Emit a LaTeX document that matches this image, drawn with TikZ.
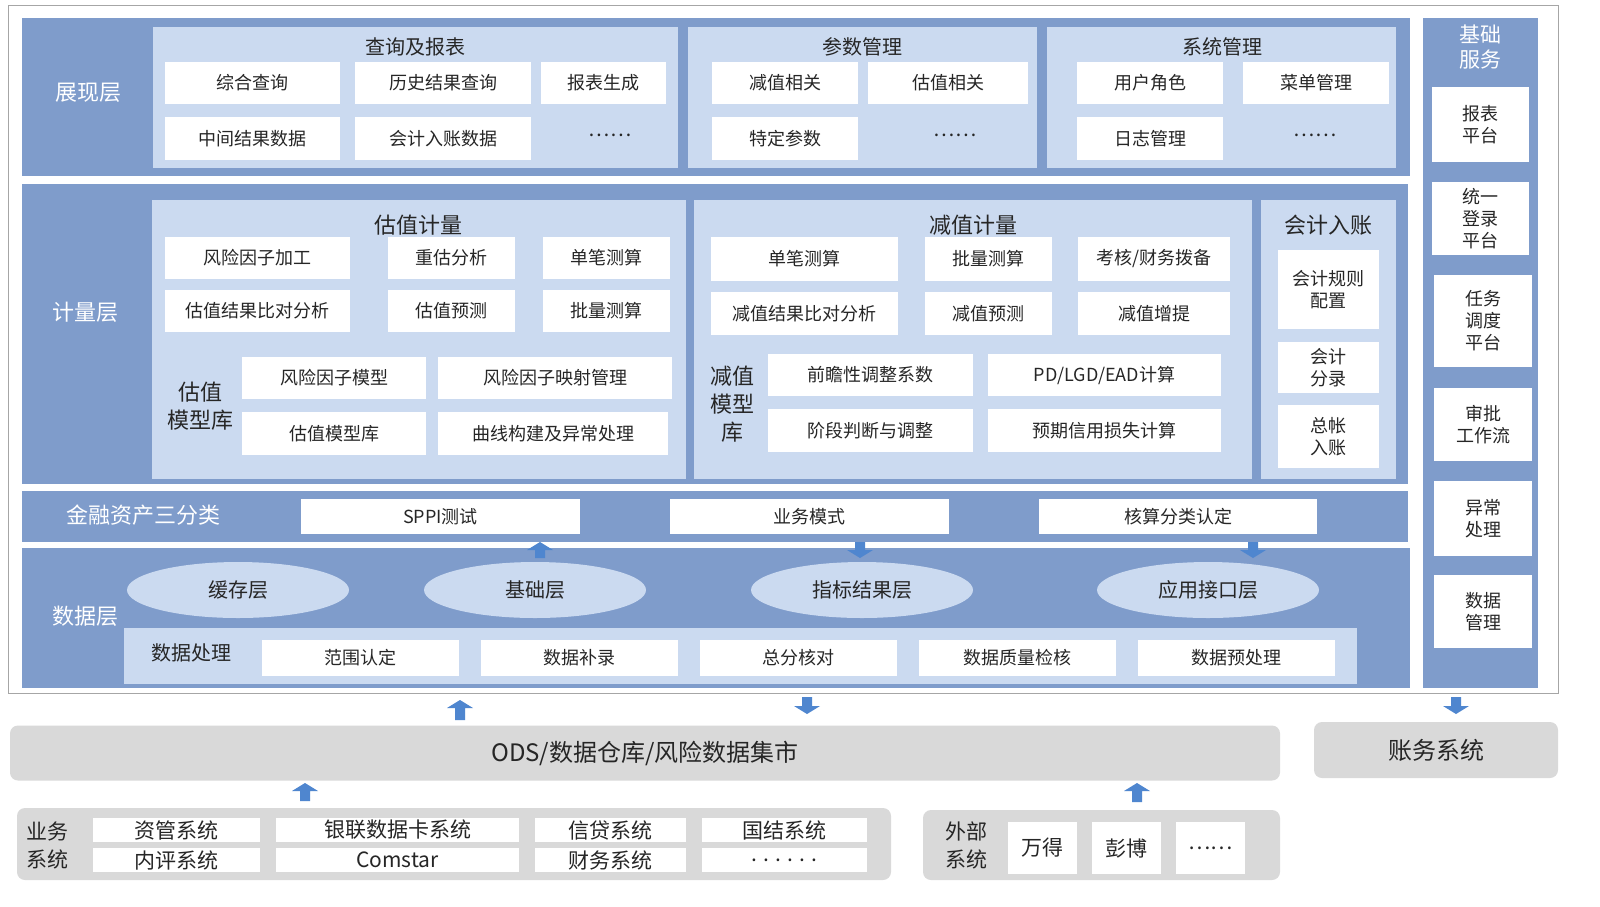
\documentclass[tikz,border=0pt]{standalone}
\usepackage{fontspec}
\usetikzlibrary{shapes.geometric}
\setmainfont{Noto Sans CJK SC}
\begin{document}
\begin{tikzpicture}[x=1pt,y=-1pt,
  band/.style={fill=bandc,draw=none},
  panel/.style={fill=panelc,draw=none},
  wbox/.style={fill=white,draw=none,inner sep=0pt,align=center,font=\fontsize{18}{22}\selectfont,text=txt},
  bl/.style={text=white,font=\fontsize{22}{26}\selectfont,align=center},
  ttl/.style={text=txt,font=\fontsize{20}{24}\selectfont,align=center},
  arr/.style={fill=arrc,draw=none}]
\definecolor{bandc}{HTML}{7F9CCB}
\definecolor{panelc}{HTML}{CBDAF0}
\definecolor{arrc}{HTML}{4F86CF}
\definecolor{grayc}{HTML}{D9D9D9}
\definecolor{txt}{HTML}{262626}
\newcommand\bx[6]{\node[wbox,minimum width={(#3-#1)*1pt},minimum height={(#4-#2)*1pt}] (#6) at ({(#1+#3)/2},{(#2+#4)/2}) {#5};}
\newcommand\uarr[3]{\fill[arr] (#1-5,#3) -- (#1-5,#2+8) -- (#1-13,#2+8) -- (#1,#2) -- (#1+13,#2+8) -- (#1+5,#2+8) -- (#1+5,#3) -- cycle;}
\newcommand\darr[3]{\fill[arr] (#1-5,#2) -- (#1-5,#3-8) -- (#1-13,#3-8) -- (#1,#3) -- (#1+13,#3-8) -- (#1+5,#3-8) -- (#1+5,#2) -- cycle;}
\useasboundingbox (0,0) rectangle (1600,906);
\fill[white] (0,0) rectangle (1600,906);
\draw[gray!70,line width=0.8pt] (8,5) rectangle (1558,693);
% presentation
\fill[band] (22,18) rectangle (1410,176);
\node[bl] (l1) at (88,93) {展现层};
\fill[panel] (153,27) rectangle (678,168);
\fill[panel] (688,27) rectangle (1037,168);
\fill[panel] (1047,27) rectangle (1396,168);
\node[ttl] (t1) at (415,47) {查询及报表};
\node[ttl] (t2) at (862,47) {参数管理};
\node[ttl] (t3) at (1222,47) {系统管理};
\bx{165}{62}{340}{104}{综合查询}{a1}
\bx{355}{62}{531}{104}{历史结果查询}{a2}
\bx{541}{62}{666}{104}{报表生成}{a3}
\bx{165}{117}{340}{160}{中间结果数据}{a4}
\bx{355}{117}{531}{160}{会计入账数据}{a5}
\node[ttl] (a6) at (610,135) {……};
\bx{712}{62}{858}{104}{减值相关}{b1}
\bx{868}{62}{1028}{104}{估值相关}{b2}
\bx{712}{117}{858}{160}{特定参数}{b3}
\node[ttl] (b4) at (955,135) {……};
\bx{1077}{62}{1223}{104}{用户角色}{c1}
\bx{1243}{62}{1389}{104}{菜单管理}{c2}
\bx{1077}{117}{1223}{160}{日志管理}{c3}
\node[ttl] (c4) at (1315,135) {……};
% measurement
\fill[band] (22,184) rectangle (1408,484);
\node[bl] (l2) at (85,312) {计量层};
\fill[panel] (152,200) rectangle (686,479);
\fill[panel] (694,200) rectangle (1252,479);
\fill[panel] (1261,200) rectangle (1396,479);
\node[ttl,font=\fontsize{22}{26}\selectfont] (t4) at (418,225) {估值计量};
\node[ttl,font=\fontsize{22}{26}\selectfont] (t5) at (973,225) {减值计量};
\node[ttl,font=\fontsize{22}{26}\selectfont] (t6) at (1328,225) {会计入账};
\bx{165}{237}{350}{279}{风险因子加工}{d1}
\bx{388}{237}{515}{279}{重估分析}{d2}
\bx{543}{237}{670}{279}{单笔测算}{d3}
\bx{165}{290}{350}{332}{估值结果比对分析}{d4}
\bx{388}{290}{515}{332}{估值预测}{d5}
\bx{543}{290}{670}{332}{批量测算}{d6}
\node[ttl,font=\fontsize{22}{28}\selectfont] (t7) at (200,406) {估值\\模型库};
\bx{242}{357}{426}{399}{风险因子模型}{e1}
\bx{438}{357}{672}{399}{风险因子映射管理}{e2}
\bx{242}{412}{426}{455}{估值模型库}{e3}
\bx{438}{412}{668}{455}{曲线构建及异常处理}{e4}
\bx{711}{237}{898}{281}{单笔测算}{f1}
\bx{925}{237}{1052}{281}{批量测算}{f2}
\bx{1078}{237}{1230}{281}{考核/财务拨备}{f3}
\bx{711}{292}{898}{335}{减值结果比对分析}{f4}
\bx{925}{292}{1052}{335}{减值预测}{f5}
\bx{1078}{292}{1230}{335}{减值增提}{f6}
\node[ttl,font=\fontsize{22}{28}\selectfont] (t8) at (732,404) {减值\\模型\\库};
\bx{768}{354}{973}{396}{前瞻性调整系数}{g1}
\bx{988}{354}{1221}{396}{PD/LGD/EAD计算}{g2}
\bx{768}{409}{973}{452}{阶段判断与调整}{g3}
\bx{988}{409}{1221}{452}{预期信用损失计算}{g4}
\bx{1278}{250}{1379}{329}{会计规则\\配置}{h1}
\bx{1278}{342}{1379}{393}{会计\\分录}{h2}
\bx{1278}{405}{1379}{468}{总帐\\入账}{h3}
% finance
\fill[band] (22,491) rectangle (1408,542);
\node[bl] (l3) at (143,515) {金融资产三分类};
\bx{301}{499}{580}{534}{SPPI测试}{i1}
\bx{670}{499}{949}{534}{业务模式}{i2}
\bx{1039}{499}{1317}{534}{核算分类认定}{i3}
% data
\fill[band] (22,548) rectangle (1410,688);
\node[bl] (l4) at (85,616) {数据层};
\foreach \cx/\tx/\nm in {238/缓存层/j1,535/基础层/j2,862/指标结果层/j3,1208/应用接口层/j4}
  \node[ellipse,fill=panelc,minimum width=222pt,minimum height=56pt,inner sep=0pt,ttl] (\nm) at (\cx,590) {\tx};
\uarr{540}{542}{558}
\darr{860}{542}{558}
\darr{1253}{542}{558}
\fill[panel] (124,628) rectangle (1357,684);
\node[ttl] (t9) at (191,653) {数据处理};
\bx{262}{640}{459}{676}{范围认定}{k1}
\bx{481}{640}{678}{676}{数据补录}{k2}
\bx{700}{640}{897}{676}{总分核对}{k3}
\bx{919}{640}{1116}{676}{数据质量检核}{k4}
\bx{1138}{640}{1335}{676}{数据预处理}{k5}
% right column
\fill[band] (1423,18) rectangle (1538,688);
\node[bl,font=\fontsize{21}{25}\selectfont] (l5) at (1480,47) {基础\\服务};
\bx{1432}{87}{1529}{162}{报表\\平台}{m1}
\bx{1432}{182}{1529}{255}{统一\\登录\\平台}{m2}
\bx{1434}{275}{1532}{367}{任务\\调度\\平台}{m3}
\bx{1434}{388}{1532}{461}{审批\\工作流}{m4}
\bx{1434}{481}{1532}{556}{异常\\处理}{m5}
\bx{1434}{575}{1532}{648}{数据\\管理}{m6}
% lower
\uarr{460}{700}{720}
\darr{807}{697}{714}
\darr{1456}{697}{714}
\node[fill=grayc,rounded corners=8pt,minimum width=1270pt,minimum height=55pt,font=\fontsize{24}{28}\selectfont,text=txt] (ods) at (645,753) {ODS/数据仓库/风险数据集市};
\node[fill=grayc,rounded corners=8pt,minimum width=244pt,minimum height=56pt,font=\fontsize{24}{28}\selectfont,text=txt] (acc) at (1436,750) {账务系统};
\uarr{305}{783}{801}
\uarr{1137}{783}{802}
\fill[grayc,rounded corners=8pt] (17,808) rectangle (891,880);
\node[ttl,font=\fontsize{21}{28}\selectfont] (n0) at (48,845) {业务\\系统};
\tikzset{wbox/.append style={font=\fontsize{21}{24}\selectfont}}
\bx{93}{818}{260}{842}{资管系统}{n1}
\bx{276}{818}{519}{842}{银联数据卡系统}{n2}
\bx{535}{818}{686}{842}{信贷系统}{n3}
\bx{702}{818}{867}{842}{国结系统}{n4}
\bx{93}{848}{260}{872}{内评系统}{n5}
\bx{276}{848}{519}{872}{Comstar}{n6}
\bx{535}{848}{686}{872}{财务系统}{n7}
\bx{702}{848}{867}{872}{. . . . . .}{n8}
\fill[grayc,rounded corners=8pt] (923,810) rectangle (1280,880);
\node[ttl,font=\fontsize{21}{28}\selectfont] (o0) at (966,845) {外部\\系统};
\bx{1008}{822}{1077}{874}{万得}{o1}
\bx{1092}{822}{1161}{874}{彭博}{o2}
\bx{1176}{822}{1245}{874}{……}{o3}
\end{tikzpicture}
\end{document}
